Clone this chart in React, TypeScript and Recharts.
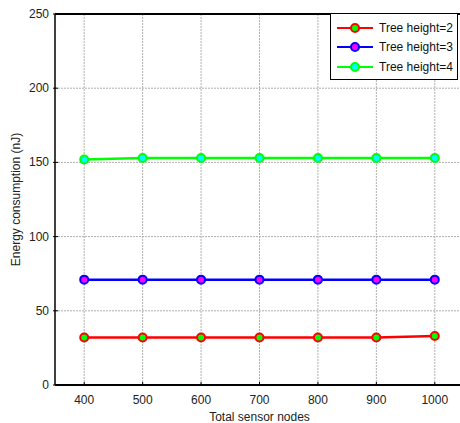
import { LineChart, Line, XAxis, YAxis, CartesianGrid } from 'recharts';

const nodes = [400, 500, 600, 700, 800, 900, 1000];
const height2 = [32, 32, 32, 32, 32, 32, 33];
const height3 = [71, 71, 71, 71, 71, 71, 71];
const height4 = [152, 153, 153, 153, 153, 153, 153];
const xTicks = [400, 500, 600, 700, 800, 900, 1000];
const yTicks = [0, 50, 100, 150, 200, 250];

const seriesInfo = [
  { key: 'h2', name: 'Tree height=2', stroke: '#ff0000', fill: '#00ff00' },
  { key: 'h3', name: 'Tree height=3', stroke: '#0000ff', fill: '#ff00ff' },
  { key: 'h4', name: 'Tree height=4', stroke: '#00ff00', fill: '#00ffff' },
];

const chartData = nodes.map((n, i) => ({ n, h2: height2[i], h3: height3[i], h4: height4[i] }));

const FONT = '"Liberation Sans", Arial, sans-serif';

const XTick = ({ x, y, payload }: any) => (
  <g>
    <line x1={x} x2={x} y1={y - 7} y2={y - 11} stroke="#000" />
    <text x={x} y={y + 11} textAnchor="middle" fontSize={12} fontFamily={FONT} fill="#222">
      {payload.value}
    </text>
  </g>
);

const YTick = ({ x, y, payload }: any) => (
  <g>
    <line x1={x + 6} x2={x + 11} y1={y} y2={y} stroke="#000" />
    <text x={x + 2} y={y + 4} textAnchor="end" fontSize={12} fontFamily={FONT} fill="#222">
      {payload.value}
    </text>
  </g>
);

// legend drawn as an overlay so it does not shrink the plot
const LegendBox = () => (
  <div
    style={{
      position: 'absolute',
      left: 330,
      top: 13,
      border: '1.5px solid #000',
      background: '#fff',
      width: 128,
      height: 67,
      boxSizing: 'border-box',
      paddingTop: 4,
      fontFamily: FONT,
      fontSize: 12,
    }}
  >
    {seriesInfo.map((s) => (
      <div key={s.key} style={{ display: 'flex', alignItems: 'center', height: 19.5, whiteSpace: 'nowrap' }}>
        <svg width={42} height={14} style={{ marginLeft: 4, flex: 'none' }}>
          <line x1={2} x2={38} y1={7} y2={7} stroke={s.stroke} strokeWidth={2} />
          <circle cx={20} cy={7} r={4} fill={s.fill} stroke={s.stroke} strokeWidth={2} />
        </svg>
        <span style={{ color: '#111', marginLeft: 2 }}>{s.name}</span>
      </div>
    ))}
  </div>
);

const App = () => {
  return (
    <div style={{ position: 'absolute', left: 0, top: 0, width: 460, height: 423, overflow: 'hidden', background: '#fff' }}>
      <LineChart width={464} height={423} data={chartData} margin={{ top: 14, right: 0, left: 0, bottom: 0 }}>
        <CartesianGrid stroke="#b0b0b0" strokeDasharray="2 1" horizontalValues={[50, 100, 150, 200]} verticalValues={xTicks} />
        <XAxis
          dataKey="n"
          type="number"
          domain={[350, 1050]}
          ticks={xTicks}
          height={38}
          stroke="#000"
          strokeWidth={2}
          tickLine={false}
          tick={<XTick />}
          label={{ value: 'Total sensor nodes', position: 'insideBottom', offset: 2, fontSize: 12, fontFamily: FONT, fill: '#222' }}
        />
        <YAxis
          type="number"
          domain={[0, 250]}
          ticks={yTicks}
          width={55}
          stroke="#000"
          strokeWidth={1.5}
          tickLine={false}
          tick={<YTick />}
          label={{ value: 'Energy consumption (nJ)', angle: -90, position: 'insideLeft', offset: 16, fontSize: 12, fontFamily: FONT, fill: '#222', style: { textAnchor: 'middle' } }}
        />
        {seriesInfo.map((s) => (
          <Line
            key={s.key}
            dataKey={s.key}
            name={s.name}
            stroke={s.stroke}
            strokeWidth={2.5}
            dot={{ r: 4, fill: s.fill, stroke: s.stroke, strokeWidth: 2 }}
            isAnimationActive={false}
          />
        ))}
      </LineChart>
      <div style={{ position: 'absolute', left: 55, top: 13, width: 410, borderTop: '2px solid #000' }} />
      <LegendBox />
    </div>
  );
};

export default App;
